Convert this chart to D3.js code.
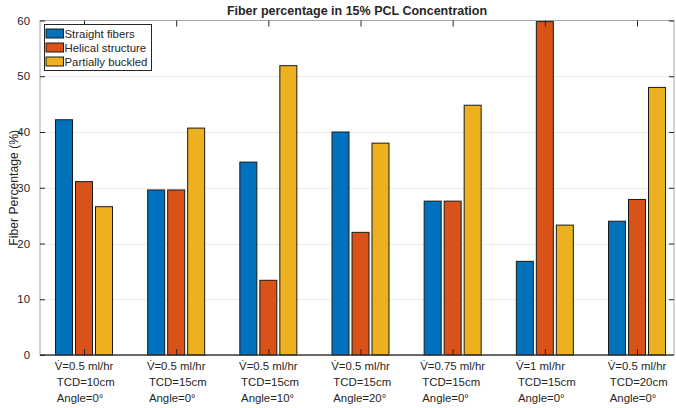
<!DOCTYPE html>
<html lang="en">
<head>
    <meta charset="UTF-8">
    <title>Fiber percentage in 15% PCL Concentration</title>
    <style>
        body { margin: 0; background: #fff; }
        svg text { font-family: "Liberation Sans", Arial, sans-serif; fill: #262626; }
        .grid line { stroke: #ebebeb; stroke-width: 1; }
        .bar { stroke: #1a1a1a; stroke-width: 1; }
    </style>
</head>
<body>
    <svg id="chart" width="676" height="408"></svg>
    <script src="https://d3js.org/d3.v7.min.js"></script>
    <script>
        // categories (x tick labels, three lines each)
        const categories = [
            ["V\u0307=0.5 ml/hr", "TCD=10cm", "Angle=0\u00b0"],
            ["V\u0307=0.5 ml/hr", "TCD=15cm", "Angle=0\u00b0"],
            ["V\u0307=0.5 ml/hr", "TCD=15cm", "Angle=10\u00b0"],
            ["V\u0307=0.5 ml/hr", "TCD=15cm", "Angle=20\u00b0"],
            ["V\u0307=0.75 ml/hr", "TCD=15cm", "Angle=0\u00b0"],
            ["V\u0307=1 ml/hr", "TCD=15cm", "Angle=0\u00b0"],
            ["V\u0307=0.5 ml/hr", "TCD=20cm", "Angle=0\u00b0"]
        ];
        const seriesNames = ["Straight fibers", "Helical structure", "Partially buckled"];
        const straight = [42.2, 29.6, 34.6, 40.0, 27.6, 16.8, 24.0];
        const helical = [31.1, 29.6, 13.4, 22.0, 27.6, 59.8, 27.9];
        const buckled = [26.6, 40.7, 51.9, 38.0, 44.8, 23.3, 48.0];
        const colors = ["#0072BD", "#D95319", "#EDB120"];
        const yTicks = [0, 10, 20, 30, 40, 50, 60];

        const svg = d3.select("#chart");
        const mLeft = 40, mRight = 674, mTop = 20.5, mBottom = 355;
        const fs = 11.4;

        const x = d3.scaleLinear().domain([0.5226, 7.4014]).range([mLeft, mRight]);
        const y = d3.scaleLinear().domain([0, 60]).range([mBottom, mTop]);
        const inner = d3.scaleBand().domain([0, 1, 2]).range([-28.5, 28.5]).paddingInner(0.15);

        // grid
        svg.append("g").attr("class", "grid")
            .selectAll("line").data(yTicks.slice(1, -1)).enter().append("line")
            .attr("x1", mLeft).attr("x2", mRight)
            .attr("y1", d => Math.round(y(d)) + 0.5).attr("y2", d => Math.round(y(d)) + 0.5);

        // bars
        const values = [straight, helical, buckled];
        const rows = [];
        values.forEach((arr, s) => arr.forEach((v, i) => rows.push({s, i, v})));
        svg.append("g").selectAll("rect").data(rows).enter().append("rect")
            .attr("class", "bar")
            .attr("x", d => x(d.i + 1) + inner(d.s))
            .attr("width", inner.bandwidth())
            .attr("y", d => y(d.v))
            .attr("height", d => y(0) - y(d.v))
            .attr("fill", d => colors[d.s]);

        // box lines
        svg.append("rect")
            .attr("x", mLeft).attr("y", mTop).attr("width", mRight - mLeft).attr("height", mBottom - mTop)
            .attr("fill", "none").attr("stroke", "#a6a6a6").attr("stroke-width", 1);
        // baseline
        svg.append("line")
            .attr("x1", mLeft).attr("x2", mRight).attr("y1", y(0)).attr("y2", y(0))
            .attr("stroke", "#000").attr("stroke-width", 1);

        // axes (ticks inward)
        const yAxisL = d3.axisLeft(y).tickValues(yTicks).tickSizeInner(-5).tickSizeOuter(0).tickPadding(10);
        const gL = svg.append("g").attr("transform", `translate(${mLeft},0)`).call(yAxisL);
        gL.select(".domain").remove();
        gL.selectAll("line").attr("stroke", "#262626");
        gL.selectAll("text").attr("font-size", fs).attr("fill", "#262626")
            .attr("font-family", "Liberation Sans, Arial, sans-serif");

        const yAxisR = d3.axisRight(y).tickValues(yTicks.slice(1)).tickSizeInner(-5).tickSizeOuter(0).tickFormat("");
        const gR = svg.append("g").attr("transform", `translate(${mRight},0)`).call(yAxisR);
        gR.select(".domain").remove();
        gR.selectAll("line").attr("stroke", "#262626");

        const xt = d3.range(1, categories.length + 1);
        const xAxisB = d3.axisBottom(x).tickValues(xt).tickSizeInner(-6).tickSizeOuter(0).tickFormat("");
        const gB = svg.append("g").attr("transform", `translate(0,${mBottom})`).call(xAxisB);
        gB.select(".domain").remove();
        gB.selectAll("line").attr("stroke", "#262626");

        const xAxisT = d3.axisTop(x).tickValues(xt).tickSizeInner(-6).tickSizeOuter(0).tickFormat("");
        const gT = svg.append("g").attr("transform", `translate(0,${mTop})`).call(xAxisT);
        gT.select(".domain").remove();
        gT.selectAll("line").attr("stroke", "#262626");

        // x tick labels, left-aligned block centred on tick
        categories.forEach((lines, i) => {
            const g = svg.append("g");
            const texts = lines.map((t, k) => g.append("text")
                .attr("font-size", fs)
                .attr("y", 369.5 + k * 16)
                .text(t));
            const w = d3.max(texts, t => t.node().getComputedTextLength());
            const x0 = x(i + 1) - w / 2;
            texts.forEach((t, k) => t.attr("x", x0 + (k === 0 ? 0 : 2)));
        });

        // title
        svg.append("text")
            .attr("x", (mLeft + mRight) / 2).attr("y", 15)
            .attr("text-anchor", "middle").attr("font-size", 12.5).attr("font-weight", "bold")
            .attr("fill", "#000")
            .text("Fiber percentage in 15% PCL Concentration");

        // y label
        svg.append("text")
            .attr("transform", `translate(18,${(mTop + mBottom) / 2}) rotate(-90)`)
            .attr("text-anchor", "middle").attr("font-size", 12.2)
            .text("Fiber Percentage (%)");

        // legend
        const lg = svg.append("g").attr("transform", "translate(44.5,24.5)");
        lg.append("rect").attr("width", 107).attr("height", 46)
            .attr("fill", "#fff").attr("stroke", "#262626").attr("stroke-width", 1);
        seriesNames.forEach((name, s) => {
            lg.append("rect")
                .attr("x", 1.5).attr("y", 4.5 + s * 14).attr("width", 17.5).attr("height", 9)
                .attr("fill", colors[s]).attr("stroke", "#1a1a1a");
            lg.append("text")
                .attr("x", 20).attr("y", 13.3 + s * 14)
                .attr("font-size", fs)
                .text(name);
        });
    </script>
</body>
</html>
